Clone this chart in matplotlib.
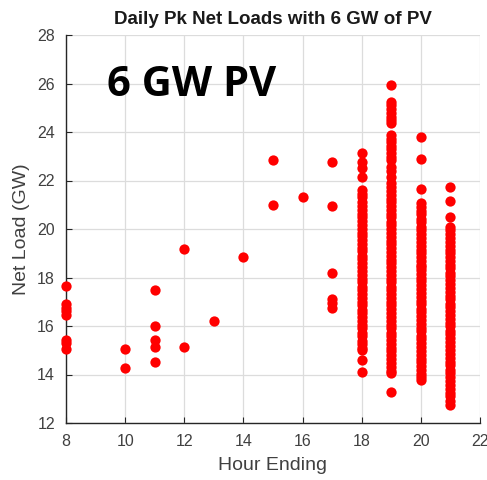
import matplotlib
matplotlib.use("Agg")
import matplotlib.pyplot as plt

# Sparse hours
h8 = [17.66, 16.9, 16.75, 16.6, 16.45, 15.42, 15.29, 15.04]
h10 = [15.04, 14.28]
h11 = [17.5, 16.0, 15.42, 15.15, 14.5]
h12 = [19.18, 15.15]
h13 = [16.22]
h14 = [18.85]
h15 = [22.85, 20.98]
h16 = [21.32]
h17 = [22.76, 20.94, 18.2, 17.1, 16.95, 16.75]

# Dense hours (read along each column)
h18 = [23.15, 22.78, 22.5, 22.16, 21.6, 21.45, 21.3, 21.12, 20.95, 20.8, 20.62,
       20.5, 20.33, 20.18, 20.02, 19.85, 19.7, 19.55, 19.4, 19.22, 19.08, 18.9,
       18.75, 18.6, 18.42, 18.28, 18.1, 17.95, 17.8, 17.62, 17.48, 17.3, 17.15,
       17.0, 16.85, 16.68, 16.52, 16.38, 16.2, 16.05, 15.9, 15.72, 15.58, 15.4,
       15.25, 15.1, 15.0, 14.6, 14.12]
h19 = [25.94, 25.25, 25.1, 24.95, 24.8, 24.62, 24.48, 24.36, 23.88, 23.72, 23.58,
       23.42, 23.28, 23.12, 22.98, 22.85, 22.57, 22.4, 22.16, 21.88, 21.72, 21.58,
       21.4, 21.25, 21.1, 20.95, 20.78, 20.62, 20.48, 20.3, 20.15, 20.0, 19.85,
       19.68, 19.52, 19.38, 19.2, 19.05, 18.9, 18.72, 18.58, 18.42, 18.25, 18.1,
       17.95, 17.8, 17.62, 17.48, 17.32, 17.15, 17.0, 16.85, 16.7, 16.52, 16.38,
       16.2, 16.05, 15.9, 15.72, 15.58, 15.42, 15.25, 15.1, 14.95, 14.8, 14.62,
       14.48, 14.3, 14.15, 14.05, 13.27]
h20 = [23.78, 22.87, 21.65, 21.06, 20.9, 20.75, 20.6, 20.42, 20.28, 20.1, 19.95,
       19.8, 19.62, 19.48, 19.3, 19.15, 19.0, 18.85, 18.68, 18.52, 18.45, 18.3,
       18.15, 18.0, 17.85, 17.7, 17.52, 17.38, 17.2, 17.05, 16.9, 16.72, 16.58,
       16.4, 16.25, 16.1, 15.92, 15.78, 15.6, 15.45, 15.3, 15.12, 14.98, 14.82,
       14.65, 14.5, 14.35, 14.18, 14.02, 13.9, 13.77]
h21 = [21.74, 21.15, 20.5, 20.1, 19.95, 19.8, 19.62, 19.48, 19.3, 19.15, 19.0,
       18.85, 18.68, 18.52, 18.38, 18.2, 18.05, 17.9, 17.72, 17.58, 17.4, 17.25,
       17.1, 16.92, 16.78, 16.6, 16.45, 16.3, 16.12, 15.98, 15.8, 15.65, 15.5,
       15.32, 15.18, 15.0, 14.85, 14.7, 14.52, 14.38, 14.2, 14.05, 13.9, 13.72,
       13.58, 13.4, 13.25, 13.1, 12.92, 12.74]

series = {8: h8, 10: h10, 11: h11, 12: h12, 13: h13, 14: h14, 15: h15,
          16: h16, 17: h17, 18: h18, 19: h19, 20: h20, 21: h21}

x_ticks = [8, 10, 12, 14, 16, 18, 20, 22]
y_ticks = [12, 14, 16, 18, 20, 22, 24, 26, 28]

fig = plt.figure(figsize=(4.87, 4.8), dpi=100)
ax = fig.add_axes([66/487, 1 - 423/480, (480-66)/487, (423-35)/480])

for hr, vals in series.items():
    ax.plot([hr]*len(vals), vals, 'o', color='#ff0000', markersize=7.4,
            markeredgewidth=0, clip_on=False, zorder=3)

ax.set_xlim(8, 22)
ax.set_ylim(12, 28)
ax.set_xticks(x_ticks)
ax.set_yticks(y_ticks)
ax.grid(True, color='#dcdcdc', linewidth=0.9)
ax.set_axisbelow(True)
for s in ['top', 'right']:
    ax.spines[s].set_visible(False)
for s in ['left', 'bottom']:
    ax.spines[s].set_color('#262626')
    ax.spines[s].set_linewidth(1.0)
ax.tick_params(direction='in', length=4, width=0.8, colors='#262626',
               labelsize=11.5, labelcolor='#404040', pad=8)
for lab in ax.get_xticklabels() + ax.get_yticklabels():
    lab.set_family('Liberation Sans')

ax.set_xlabel('Hour Ending', fontsize=14, color='#404040',
              family='Liberation Sans', labelpad=6)
ax.set_ylabel('Net Load (GW)', fontsize=14, color='#404040',
              family='Liberation Sans', labelpad=5)
ax.set_title('Daily Pk Net Loads with 6 GW of PV', fontsize=13.5, fontweight='bold',
             color='#1a1a1a', family='Liberation Sans', pad=8)

ax.text(107/487, 1 - 96/480, '6 GW PV', transform=fig.transFigure,
        fontsize=30, fontweight='bold', family='Open Sans', color='black',
        ha='left', va='baseline')

fig.savefig('out.png', dpi=100)
